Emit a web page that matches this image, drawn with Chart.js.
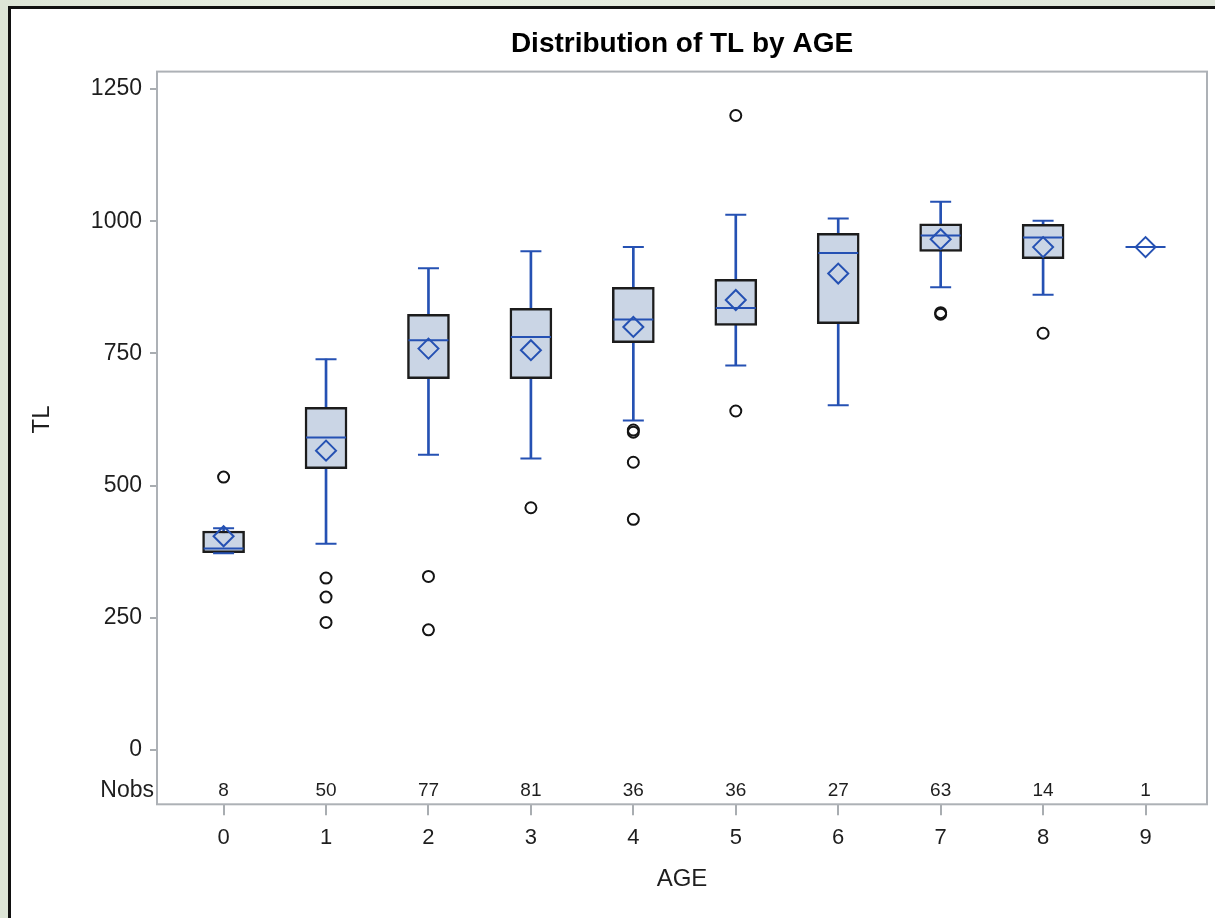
<!DOCTYPE html>
<html><head><meta charset="utf-8">
<script src="https://cdn.jsdelivr.net/npm/chart.js@4.4.1/dist/chart.umd.min.js"></script>
<style>
html,body{margin:0;padding:0;width:1215px;height:918px;overflow:hidden;
  background:linear-gradient(90deg,#dde5d7 0%,#e8efe1 25%,#e4ebde 55%,#dfe6da 100%);}
#frame{position:absolute;left:8px;top:6px;width:1230px;height:930px;border-left:3px solid #111;border-top:3px solid #111;background:#fff;overflow:hidden;}
#c{position:absolute;left:0;top:0;}
</style></head><body>
<div id="frame"><canvas id="c" width="1218" height="909"></canvas></div>
<script>
// ---- data ----
const ages = [0, 1, 2, 3, 4, 5, 6, 7, 8, 9];
const ageLabels = ['0', '1', '2', '3', '4', '5', '6', '7', '8', '9'];
const nobs = [8, 50, 77, 81, 36, 36, 27, 63, 14, 1];
const q1 = [373, 532, 702, 702, 770, 803, 806, 943, 929, null];
const median = [381, 591, 775, 781, 814, 836, 940, 973, 969, 951];
const q3 = [414, 648, 824, 835, 875, 890, 977, 995, 994, null];
const mean = [404, 566, 759, 756, 800, 851, 901, 966, 951, 951];
const whiskerLow = [372, 390, 558, 551, 623, 727, 652, 875, 861, null];
const whiskerHigh = [419, 739, 911, 943, 951, 1012, 1005, 1037, 1001, null];
const outliers = [[516], [325, 289, 241], [328, 227], [458], [605, 601, 544, 436], [1200, 641], [], [827, 824], [788], []];
const yTicks = [0, 250, 500, 750, 1000, 1250];

const FONT = '"Liberation Sans", Arial, sans-serif';
const BLUE = '#2551b3';
const TEXT = '#1e1e1e';

const hasBox = i => q1[i] !== null;
const whiskerData = ages.filter((a, i) => hasBox(i)).map(a => ({x: a, y: [whiskerLow[a], whiskerHigh[a]]}));
const boxData = ages.filter((a, i) => hasBox(i)).map(a => ({x: a, y: [q1[a], q3[a]]}));
const capData = [];
ages.forEach((a, i) => { if (hasBox(i)) { capData.push({x: a, y: whiskerLow[i]}); capData.push({x: a, y: whiskerHigh[i]}); } });
const medianData = ages.map((a, i) => ({x: a, y: median[i]}));
const meanData = ages.map((a, i) => ({x: a, y: mean[i]}));
const outlierData = [];
ages.forEach((a, i) => outliers[i].forEach(v => outlierData.push({x: a, y: v})));

const extras = {
  id: 'extras',
  afterDraw(chart) {
    const {ctx, chartArea, scales} = chart;
    const x = scales.x, y = scales.y;
    ctx.save();
    // plot frame
    ctx.strokeStyle = '#adb1b6';
    ctx.lineWidth = 2;
    ctx.strokeRect(chartArea.left, chartArea.top, chartArea.right - chartArea.left, chartArea.bottom - chartArea.top);
    // Nobs row
    ctx.fillStyle = TEXT;
    ctx.textBaseline = 'middle';
    ctx.textAlign = 'center';
    ctx.font = '19px ' + FONT;
    const ny = chartArea.bottom - 13.5;
    ages.forEach((a, i) => ctx.fillText(String(nobs[i]), x.getPixelForValue(a), ny));
    ctx.textAlign = 'right';
    ctx.font = '23px ' + FONT;
    ctx.fillText('Nobs', chartArea.left - 3, ny);
    // y-axis title
    ctx.translate(31, (y.getPixelForValue(yTicks[0]) + y.getPixelForValue(yTicks[yTicks.length - 1])) / 2);
    ctx.rotate(-Math.PI / 2);
    ctx.textAlign = 'center';
    ctx.font = '24px ' + FONT;
    ctx.fillText('TL', 0, 0);
    ctx.restore();
  }
};

new Chart(document.getElementById('c'), {
  type: 'bar',
  data: {
    datasets: [
      {type: 'bar', label: 'Whisker', data: whiskerData, backgroundColor: BLUE, borderWidth: 0, barThickness: 2, grouped: false, order: 6},
      {type: 'bar', label: 'Box', data: boxData, backgroundColor: '#cad5e5', borderColor: '#1c1c1c', borderWidth: 2.5, borderSkipped: false, barThickness: 42, grouped: false, order: 5},
      {type: 'scatter', label: 'Caps', data: capData, pointStyle: 'line', pointRadius: 10.5, pointBorderColor: BLUE, pointBorderWidth: 2, order: 4},
      {type: 'scatter', label: 'Median', data: medianData, pointStyle: 'line', pointRadius: 20, pointBorderColor: BLUE, pointBorderWidth: 2, order: 3},
      {type: 'scatter', label: 'Mean', data: meanData, pointStyle: 'rectRot', pointRadius: 10, pointBackgroundColor: 'rgba(0,0,0,0)', pointBorderColor: BLUE, pointBorderWidth: 2, order: 2},
      {type: 'scatter', label: 'Outliers', data: outlierData, pointStyle: 'circle', pointRadius: 5.5, pointBackgroundColor: 'rgba(0,0,0,0)', pointBorderColor: '#141414', pointBorderWidth: 2, order: 1}
    ]
  },
  options: {
    responsive: false,
    animation: false,
    devicePixelRatio: 1,
    layout: {padding: {left: 0, right: 8, top: 0, bottom: 0}},
    plugins: {
      legend: {display: false},
      tooltip: {enabled: false},
      title: {
        display: true, fullSize: false, text: 'Distribution of TL by AGE', color: '#000',
        font: {family: FONT, size: 28, weight: 'bold'}, padding: {top: 18, bottom: 11}
      }
    },
    scales: {
      x: {
        type: 'linear', min: -0.65, max: 9.6, offset: false,
        afterBuildTicks: s => { s.ticks = ages.map(v => ({value: v})); },
        afterFit: s => { s.height = 113.7; s.paddingLeft = 0; s.paddingRight = 0; },
        ticks: {font: {family: FONT, size: 22}, color: TEXT, padding: 9, autoSkip: false, maxRotation: 0,
          callback: v => ageLabels[ages.indexOf(v)]},
        grid: {offset: false, drawOnChartArea: false, tickLength: 11, color: '#a9adb1', lineWidth: 2},
        border: {display: false},
        title: {display: true, text: 'AGE', color: TEXT, font: {family: FONT, size: 24}, padding: {top: 0, bottom: 24}}
      },
      y: {
        type: 'linear', min: -103, max: 1283,
        afterBuildTicks: s => { s.ticks = yTicks.map(v => ({value: v})); },
        afterFit: s => { s.width = 146; },
        ticks: {font: {family: FONT, size: 23}, color: TEXT, padding: 8, callback: v => String(v)},
        grid: {drawOnChartArea: false, tickLength: 7, color: '#a9adb1', lineWidth: 2},
        border: {display: false}
      }
    }
  },
  plugins: [extras]
});
</script>
</body></html>
